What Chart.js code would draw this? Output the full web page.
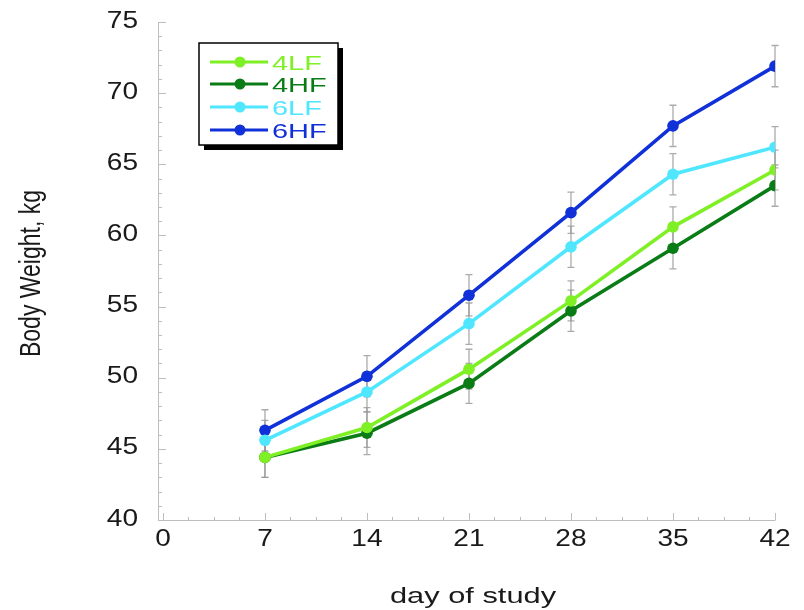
<!DOCTYPE html>
<html><head><meta charset="utf-8">
<script src="https://cdn.jsdelivr.net/npm/chart.js@4/dist/chart.umd.min.js"></script>
<style>html,body{margin:0;padding:0;background:#fff}#wrap{width:804px;height:610px}</style>
</head><body><div id="wrap"><canvas id="c" width="804" height="610"></canvas></div>
<script>
const days = [7, 14, 21, 28, 35, 42];
const xTicks = [0, 7, 14, 21, 28, 35, 42];
const yTicks = [40, 45, 50, 55, 60, 65, 70, 75];
const seriesNames = ['4LF', '4HF', '6LF', '6HF'];
const w4LF = [44.4, 46.5, 50.6, 55.4, 60.6, 64.6];
const w4HF = [44.4, 46.1, 49.6, 54.7, 59.1, 63.5];
const w6LF = [45.6, 49.0, 53.8, 59.2, 64.3, 66.2];
const w6HF = [46.3, 50.1, 55.8, 61.6, 67.7, 71.9];
const e4LF = [1.4, 1.4, 1.4, 1.4, 1.4, 1.4];
const e4HF = [1.4, 1.5, 1.4, 1.45, 1.45, 1.45];
const e6LF = [1.4, 1.4, 1.45, 1.45, 1.45, 1.45];
const e6HF = [1.45, 1.45, 1.45, 1.45, 1.45, 1.45];
const xTitle = 'day of study';
const yTitle = 'Body Weight, kg';
const colors = ['#7ef025', '#0a7c16', '#4fe6ff', '#1030d8'];

const vals = [w4LF, w4HF, w6LF, w6HF];
const errs = [e4LF, e4HF, e6LF, e6HF];
const datasets = seriesNames.map((n, i) => ({
  label: n,
  data: days.map((d, j) => ({x: d, y: vals[i][j]})),
  err: errs[i],
  borderColor: colors[i],
  backgroundColor: colors[i],
  pointBackgroundColor: colors[i],
  pointBorderColor: colors[i],
  borderWidth: 3.6,
  pointRadius: 5.8,
  pointBorderWidth: 0,
  tension: 0
}));

const FONT = '"Liberation Sans", Arial, Helvetica, sans-serif';

function txt(ctx, s, x, y, size, sx, align, baseline, color) {
  ctx.save();
  ctx.translate(x, y);
  ctx.scale(sx, 1);
  ctx.font = size + 'px ' + FONT;
  ctx.textAlign = align;
  ctx.textBaseline = baseline;
  ctx.fillStyle = color;
  ctx.fillText(s, 0, 0);
  ctx.restore();
}

const errPlugin = {
  id: 'errbars',
  beforeDatasetsDraw(chart) {
    const ctx = chart.ctx, xs = chart.scales.x, ys = chart.scales.y;
    ctx.save();
    ctx.strokeStyle = 'rgba(150,150,150,0.8)';
    ctx.lineWidth = 1.3;
    chart.data.datasets.forEach(ds => {
      ds.data.forEach((p, j) => {
        const e = ds.err[j];
        const x = xs.getPixelForValue(p.x);
        const y1 = ys.getPixelForValue(p.y + e), y2 = ys.getPixelForValue(p.y - e);
        ctx.beginPath();
        ctx.moveTo(x, y1); ctx.lineTo(x, y2);
        ctx.moveTo(x - 3.5, y1); ctx.lineTo(x + 3.5, y1);
        ctx.moveTo(x - 3.5, y2); ctx.lineTo(x + 3.5, y2);
        ctx.stroke();
      });
    });
    ctx.restore();
  }
};

const axesPlugin = {
  id: 'axes',
  beforeDatasetsDraw(chart) {
    const ctx = chart.ctx, xs = chart.scales.x, ys = chart.scales.y;
    const L = chart.chartArea.left, B = chart.chartArea.bottom;
    const T = ys.getPixelForValue(75), R = xs.getPixelForValue(42);
    ctx.save();
    ctx.strokeStyle = '#bdbdbd';
    ctx.lineWidth = 1;
    ctx.beginPath();
    ctx.moveTo(L + 0.5, T); ctx.lineTo(L + 0.5, B + 0.5); ctx.lineTo(R + 0.5, B + 0.5);
    for (let v = 0; v <= 42.001; v += 1.75) {
      const x = Math.round(xs.getPixelForValue(v)) + 0.5;
      const major = Math.abs(v / 7 - Math.round(v / 7)) < 1e-6;
      ctx.moveTo(x, B); ctx.lineTo(x, B - (major ? 7 : 3));
    }
    for (let v = 40; v <= 75.001; v += 1) {
      const y = Math.round(ys.getPixelForValue(v)) + 0.5;
      const major = v % 5 === 0;
      ctx.moveTo(L, y); ctx.lineTo(L + (major ? 8 : 4), y);
    }
    ctx.stroke();
    ctx.restore();
  },
  afterDraw(chart) {
    const ctx = chart.ctx, xs = chart.scales.x, ys = chart.scales.y;
    const tc = '#1a1a1a';
    yTicks.forEach(v => txt(ctx, String(v), 138, ys.getPixelForValue(v) - 1, 24, 1.17, 'right', 'middle', tc));
    xTicks.forEach(v => txt(ctx, String(v), xs.getPixelForValue(v), 539, 24, 1.17, 'center', 'middle', tc));
    txt(ctx, xTitle, 473, 603, 22, 1.4, 'center', 'alphabetic', tc);
    // rotated y title
    ctx.save();
    ctx.translate(40, 273.5);
    ctx.rotate(-Math.PI / 2);
    ctx.scale(1, 1.26);
    ctx.font = '23px ' + FONT;
    ctx.textAlign = 'center';
    ctx.textBaseline = 'alphabetic';
    ctx.fillStyle = tc;
    ctx.fillText(yTitle, 0, 0);
    ctx.restore();
  }
};

const legendPlugin = {
  id: 'customLegend',
  afterDraw(chart) {
    const ctx = chart.ctx;
    const bx = 199, by = 43, bw = 139, bh = 102;
    ctx.save();
    ctx.fillStyle = '#000';
    ctx.fillRect(bx + 5, by + 5, bw, bh);
    ctx.fillStyle = '#fff';
    ctx.fillRect(bx, by, bw, bh);
    ctx.strokeStyle = '#000';
    ctx.lineWidth = 1.5;
    ctx.strokeRect(bx, by, bw, bh);
    const rows = [62, 84, 107, 130];
    chart.data.datasets.forEach((ds, i) => {
      const y = rows[i];
      ctx.strokeStyle = ds.borderColor;
      ctx.lineWidth = 3;
      ctx.beginPath(); ctx.moveTo(210, y); ctx.lineTo(268, y); ctx.stroke();
      ctx.fillStyle = ds.borderColor;
      ctx.beginPath(); ctx.arc(240, y, 5.5, 0, Math.PI * 2); ctx.fill();
      txt(ctx, ds.label, 272, y + 7.5, 21, 1.38, 'left', 'alphabetic', ds.borderColor);
    });
    ctx.restore();
  }
};

new Chart(document.getElementById('c'), {
  type: 'line',
  data: { datasets },
  options: {
    responsive: false,
    animation: false,
    layout: { padding: { left: 0, right: 29, top: 22, bottom: 0 } },
    plugins: { legend: { display: false }, tooltip: { enabled: false } },
    scales: {
      x: {
        type: 'linear', min: -0.34, max: 42,
        afterBuildTicks(s) { s.ticks = xTicks.map(v => ({value: v})); },
        afterFit(s) { s.height = 90; },
        grid: { display: false, drawTicks: false },
        border: { display: false },
        ticks: { display: false },
        title: { display: false, text: xTitle }
      },
      y: {
        type: 'linear', min: 40, max: 75,
        afterBuildTicks(s) { s.ticks = yTicks.map(v => ({value: v})); },
        afterFit(s) { s.width = 158; },
        grid: { display: false, drawTicks: false },
        border: { display: false },
        ticks: { display: false },
        title: { display: false, text: yTitle }
      }
    }
  },
  plugins: [errPlugin, axesPlugin, legendPlugin]
});
</script>
</body></html>
